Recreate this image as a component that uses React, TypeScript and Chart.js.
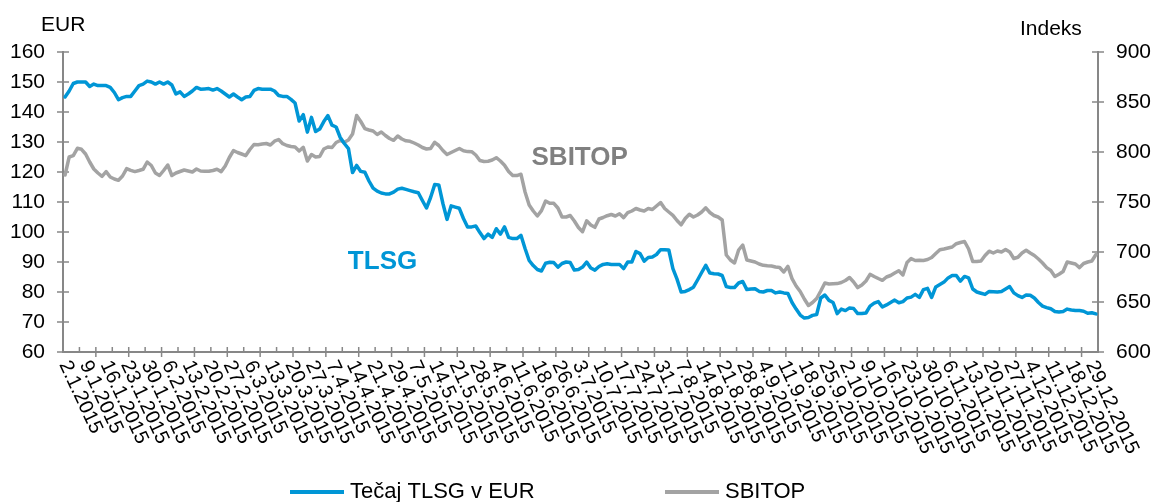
import React, { useEffect, useRef } from 'react';
import { Chart, registerables } from 'chart.js';

Chart.register(...registerables);

// ---------- DATA ----------
const tickLabels: string[] = [
  '2.1.2015', '9.1.2015', '16.1.2015', '23.1.2015', '30.1.2015', '6.2.2015', '13.2.2015', '20.2.2015',
  '27.2.2015', '6.3.2015', '13.3.2015', '20.3.2015', '27.3.2015', '7.4.2015', '14.4.2015', '21.4.2015',
  '29.4.2015', '7.5.2015', '14.5.2015', '21.5.2015', '28.5.2015', '4.6.2015', '11.6.2015', '18.6.2015',
  '26.6.2015', '3.7.2015', '10.7.2015', '17.7.2015', '24.7.2015', '31.7.2015', '7.8.2015', '14.8.2015',
  '21.8.2015', '28.8.2015', '4.9.2015', '11.9.2015', '18.9.2015', '25.9.2015', '2.10.2015', '9.10.2015',
  '16.10.2015', '23.10.2015', '30.10.2015', '6.11.2015', '13.11.2015', '20.11.2015', '27.11.2015',
  '4.12.2015', '11.12.2015', '18.12.2015', '29.12.2015',
];
const labelEvery = 5; // one tick label per 5 trading days

// Tečaj TLSG v EUR (left axis)
const tlsg: number[] = [
  145, 147, 149.5, 150, 150, 150, 148.5, 149.3, 148.8, 148.8,
  148.8, 148.2, 146.5, 144.1, 144.8, 145.2, 145.2, 147, 148.8, 149.3,
  150.3, 150, 149.3, 150, 149.3, 150, 149, 146, 146.7, 145.2,
  146, 147, 148.2, 147.6, 147.7, 147.8, 147.3, 147.8, 147, 146,
  145, 146, 145, 144.1, 145, 145.2, 147.2, 147.8, 147.6, 147.6,
  147.6, 147, 145.5, 145.2, 145.2, 144.2, 143, 137, 139.1, 133.3,
  138.2, 133.5, 134.3, 136.8, 138.8, 135.6, 135, 131.5, 129.5, 127.8,
  119.8, 122.2, 120.2, 119.9, 117, 114.6, 113.6, 113, 112.7, 112.7,
  113.3, 114.3, 114.6, 114.2, 113.8, 113.4, 113.1, 110.5, 108, 111.5,
  115.8, 115.7, 109.5, 104.2, 108.7, 108.3, 107.9, 104.5, 101.7, 101.7,
  102, 99.8, 97.8, 99.3, 98.2, 101.1, 99.3, 101.7, 98.2, 97.8,
  97.8, 98.9, 94.5, 90.5, 88.8, 87.5, 87, 89.6, 89.9, 89.8,
  88.3, 89.5, 90, 89.8, 87.3, 87.5, 88.3, 90, 88, 87.3,
  88.5, 89.2, 89.4, 89.2, 89.2, 89.2, 87.8, 90, 90, 93.5,
  92.8, 90.3, 91.5, 91.7, 92.5, 94.1, 94.1, 94, 87.8, 84.3,
  80, 80.2, 80.8, 81.6, 84, 86.5, 88.9, 86.3, 86.1, 86,
  85.5, 81.8, 81.5, 81.5, 83, 83.5, 80.8, 81, 81.1, 80.2,
  80, 80.5, 80.5, 79.7, 80, 79.7, 79.5, 76.5, 74.3, 72.3,
  71.3, 71.5, 72.2, 72.5, 78, 79, 77.2, 76.5, 72.8, 74.3,
  73.8, 74.7, 74.5, 72.8, 72.8, 73, 75.3, 76.3, 76.8, 75,
  75.7, 76.5, 77.3, 76.4, 76.8, 78, 78.3, 79.2, 78.2, 80.8,
  81.2, 78.2, 81.7, 82.5, 83.3, 84.7, 85.5, 85.5, 83.6, 85.2,
  84.7, 81, 80, 79.6, 79.2, 80.2, 80.1, 80, 80.2, 81,
  81.8, 79.7, 78.8, 78.2, 79, 78.9, 78, 76.5, 75.3, 74.8,
  74.4, 73.5, 73.3, 73.5, 74.3, 74, 73.8, 73.8, 73.6, 72.9,
  73.1, 72.7,
];

// SBITOP (right axis)
const sbitop: number[] = [
  777, 795, 796.4, 803.7, 802.7, 798, 790, 783, 779, 775.7,
  780.4, 775, 773, 771.7, 776, 783.4, 781.7, 780.4, 781.5, 782.7,
  790, 786.5, 779, 776.5, 781.5, 787, 776.5, 779, 780.5, 782,
  781, 780, 783, 781, 780.7, 780.7, 781.5, 782.7, 780.4, 786,
  794.5, 801.4, 799.5, 798, 796.4, 802.5, 807.5, 807.3, 808, 808.5,
  807, 810.8, 812.5, 808.3, 806.5, 805.5, 805, 801, 804.7, 791,
  797.5, 795, 795.5, 803, 805, 804.5, 809.5, 811.5, 809.7, 812,
  818, 836.5, 830.5, 823.4, 822, 821, 817.5, 820, 816.5, 813.5,
  811.7, 816, 813, 811.2, 810.7, 809, 807, 804.5, 803, 803.5,
  809.7, 806.5, 801.5, 797.5, 799.5, 801.5, 803.5, 801.2, 800.4, 800.3,
  797, 791.5, 790.5, 790.8, 792, 794.3, 791, 786.8, 780.5, 776.4,
  776.4, 777.8, 760, 747, 741, 736, 741.4, 751, 748.7, 748.7,
  744, 735, 735, 736.5, 731, 724.5, 720.3, 731.2, 727, 724.7,
  733, 734.5, 736.3, 737.5, 736, 738.2, 734.4, 739.3, 741, 743.5,
  742, 741, 743.5, 742.5, 746, 749.5, 743.5, 740, 736.7, 731.5,
  727.2, 733.5, 737.8, 735, 737, 740, 744.2, 739.5, 736.5, 735,
  732, 697, 692, 689, 702, 707, 692, 691, 690, 688,
  686.7, 686.3, 686, 685, 684.5, 680, 685.7, 673.4, 666, 660.5,
  653, 646.5, 649.5, 653.5, 661, 669, 668, 668.2, 668.4, 669.5,
  671.5, 674.5, 670, 664.4, 667, 671, 677.7, 675.5, 673.5, 671.7,
  675, 676.5, 679, 681.3, 677, 689.5, 693.4, 691.5, 691.7, 691.5,
  692.5, 694.5, 698.5, 702.3, 703, 704, 705, 708.3, 709.5, 710.5,
  703, 690.5, 690.5, 691, 696.5, 700.8, 699, 701, 700, 702.5,
  700, 693.5, 694.7, 699, 701.7, 699, 696.5, 693, 689, 684.4,
  681.5, 675.5, 677.8, 680.5, 690, 689, 688, 684.4, 688.5, 690,
  691, 697.5,
];

const seriesNames = ['Tečaj TLSG v EUR', 'SBITOP'];
const axisTitles = ['EUR', 'Indeks'];
// in-chart series labels: [text, category index, axis value]
const annotations: [string, number, number, string][] = [
  ['SBITOP', 125.3, 794.4, 'y1'],
  ['TLSG', 77.3, 90, 'y'],
];

// ---------- STYLE ----------
const FONT = "'Liberation Sans', Arial, Helvetica, sans-serif";
const BLUE = '#0096D6';
const GRAY = '#A3A3A3';
const GRAY_TEXT = '#808080';
const AXIS = '#878787';

const categories = tlsg.map((_, i) => (i % labelEvery === 0 ? tickLabels[i / labelEvery] ?? '' : ''));

const decor = {
  id: 'decor',
  beforeDatasetsDraw(chart: any) {
    const { ctx, chartArea: a } = chart;
    const xs = chart.scales.x, yl = chart.scales.y, yr = chart.scales.y1;
    ctx.save();
    ctx.strokeStyle = AXIS;
    const seg = (x1: number, y1: number, x2: number, y2: number) => {
      ctx.beginPath(); ctx.moveTo(x1, y1); ctx.lineTo(x2, y2); ctx.stroke();
    };
    ctx.lineWidth = 2;
    seg(a.left, a.top - 1, a.left, a.bottom + 1);
    seg(a.right, a.top - 1, a.right, a.bottom + 1);
    seg(a.left, a.bottom, a.right, a.bottom);
    ctx.lineWidth = 1.5;
    yl.ticks.forEach((t: any) => { const p = yl.getPixelForValue(t.value); seg(a.left - 6, p, a.left + 6, p); });
    yr.ticks.forEach((t: any) => { const p = yr.getPixelForValue(t.value); seg(a.right - 6, p, a.right + 6, p); });
    const n = xs.getLabels().length;
    const half = (xs.getPixelForValue(1) - xs.getPixelForValue(0)) / 2;
    for (let k = 4; k < n; k += 4) {
      const px = xs.getPixelForValue(k) - half;
      if (k % 8 === 0) seg(px, a.bottom - 5, px, a.bottom + 5);
      else seg(px, a.bottom - 5, px, a.bottom);
    }
    ctx.restore();
  },
  afterDraw(chart: any) {
    const { ctx, chartArea: a } = chart;
    const xs = chart.scales.x;
    ctx.save();
    // x tick labels, rotated clockwise, starting at the category
    ctx.fillStyle = '#000';
    ctx.font = `20px ${FONT}`;
    ctx.textAlign = 'left';
    ctx.textBaseline = 'middle';
    const ang = (65 * Math.PI) / 180;
    categories.forEach((lab, i) => {
      if (!lab) return;
      const px = xs.getPixelForValue(i);
      ctx.save();
      ctx.translate(px - 1, a.bottom + 10);
      ctx.rotate(ang);
      ctx.fillText(lab, 0, 0);
      ctx.restore();
    });
    // axis titles
    ctx.font = `21px ${FONT}`;
    ctx.textAlign = 'left';
    ctx.fillText(axisTitles[0], a.left - 22, a.top - 27);
    ctx.fillText(axisTitles[1], a.right - 78, a.top - 23);
    // in-chart labels
    ctx.font = `bold 26px ${FONT}`;
    ctx.textAlign = 'center';
    annotations.forEach(([txt, idx, val, axis]) => {
      ctx.fillStyle = axis === 'y' ? BLUE : GRAY_TEXT;
      ctx.fillText(txt, xs.getPixelForValue(idx), chart.scales[axis].getPixelForValue(val));
    });
    // legend
    const legendX = [290, 665];
    const legendY = 492;
    ctx.font = `22px ${FONT}`;
    ctx.textAlign = 'left';
    chart.data.datasets.forEach((ds: any, i: number) => {
      const x0 = legendX[i];
      ctx.strokeStyle = ds.borderColor;
      ctx.lineWidth = 4;
      ctx.beginPath(); ctx.moveTo(x0, legendY); ctx.lineTo(x0 + 54, legendY); ctx.stroke();
      ctx.fillStyle = '#000';
      ctx.fillText(ds.label, x0 + 60, legendY);
    });
    ctx.restore();
  },
};

export default function App() {
  const ref = useRef<HTMLCanvasElement | null>(null);
  useEffect(() => {
    if (!ref.current) return;
    const chart = new Chart(ref.current, {
      type: 'line',
      data: {
        labels: categories,
        datasets: [
          {
            label: seriesNames[0], data: tlsg, yAxisID: 'y',
            borderColor: BLUE, backgroundColor: BLUE, borderWidth: 3.5,
            pointRadius: 0, tension: 0, borderJoinStyle: 'round', borderCapStyle: 'round',
          },
          {
            label: seriesNames[1], data: sbitop, yAxisID: 'y1',
            borderColor: GRAY, backgroundColor: GRAY, borderWidth: 3.5,
            pointRadius: 0, tension: 0, borderJoinStyle: 'round', borderCapStyle: 'round',
          },
        ],
      },
      options: {
        responsive: false,
        animation: false,
        devicePixelRatio: 1,
        layout: { padding: { top: 52, left: 0, right: 0, bottom: 0 } },
        plugins: { legend: { display: false }, tooltip: { enabled: false } },
        scales: {
          x: {
            type: 'category',
            offset: true,
            grid: { display: false, drawTicks: false },
            border: { display: false },
            ticks: { display: false, autoSkip: false },
            afterFit: (s: any) => { s.height = 150; },
          },
          y: {
            position: 'left', min: 60, max: 160,
            grid: { display: false, drawTicks: false },
            border: { display: false },
            ticks: { stepSize: 10, padding: 18, color: '#000', font: { family: FONT, size: 21 } },
            afterFit: (s: any) => { s.width = 63; },
          },
          y1: {
            position: 'right', min: 600, max: 900,
            grid: { display: false, drawTicks: false },
            border: { display: false },
            ticks: { stepSize: 50, padding: 18, color: '#000', font: { family: FONT, size: 21 } },
            afterFit: (s: any) => { s.width = 55; },
          },
        },
      },
      plugins: [decor],
    } as any);
    return () => chart.destroy();
  }, []);
  return (
    <div style={{ position: 'absolute', left: 0, top: 0, width: 1153, height: 502, background: '#fff' }}>
      <canvas ref={ref} width={1153} height={502} />
    </div>
  );
}
